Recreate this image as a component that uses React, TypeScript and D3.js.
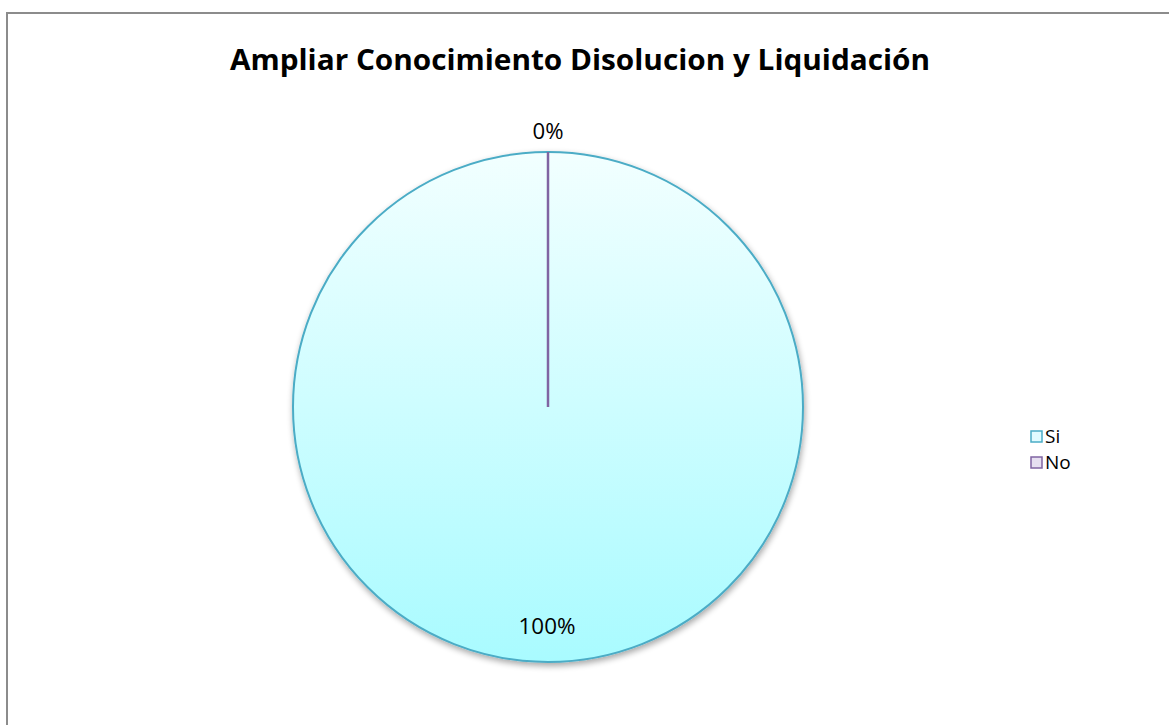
import React from "react";
import * as d3 from "d3";

const categories = ["Si", "No"];
const values = [100, 0];
const labels = ["100%", "0%"];
const title = "Ampliar Conocimiento Disolucion y Liquidación";

const W = 1169;
const H = 725;

export default function App() {
  const cx = 548, cy = 407, r = 255;
  const pie = d3.pie<number>().sort(null).value((d) => d)(values);
  const arc = d3.arc<d3.PieArcDatum<number>>().innerRadius(0).outerRadius(r);
  const strokes = ["#4bacc6", "#8064a2"];
  const legendFills = ["#e0fbff", "#e6dff0"];
  const labelPos = [
    [547, 634],
    [548, 139],
  ];
  return (
    <div style={{ position: "absolute", left: 0, top: 0 }}>
      <svg width={W} height={H} style={{ display: "block", fontFamily: "Lato, 'Open Sans', sans-serif" }}>
        <defs>
          <linearGradient id="g0" x1="0" y1="0" x2="0" y2="1">
            <stop offset="0" stopColor="#f2ffff" />
            <stop offset="1" stopColor="#a9fbff" />
          </linearGradient>
          <filter id="sh" x="-10%" y="-10%" width="120%" height="120%">
            <feGaussianBlur in="SourceAlpha" stdDeviation="3" />
            <feOffset dx="1" dy="3" result="b" />
            <feComponentTransfer><feFuncA type="linear" slope="0.35" /></feComponentTransfer>
            <feMerge>
              <feMergeNode />
              <feMergeNode in="SourceGraphic" />
            </feMerge>
          </filter>
        </defs>
        <rect x={0} y={0} width={W} height={H} fill="#fff" />
        <rect x={7} y={13} width={W + 10} height={H + 10} fill="#fff" stroke="#8c8c8c" strokeWidth={2} />
        <text x={580} y={70} textAnchor="middle" fontSize={28} fontWeight="bold" fill="#000" fontFamily="'Open Sans', sans-serif" textLength={700} lengthAdjust="spacingAndGlyphs">
          {title}
        </text>
        <g transform={`translate(${cx},${cy})`} filter="url(#sh)">
          {pie.map((p, i) =>
            p.endAngle - p.startAngle > 0 ? (
              <path key={i} d={arc(p) || ""} fill={i === 0 ? "url(#g0)" : "#e6dff0"} stroke={strokes[i]} strokeWidth={2} />
            ) : null
          )}
        </g>
        <g transform={`translate(${cx},${cy})`}>
          {pie.map((p, i) =>
            p.endAngle - p.startAngle === 0 ? (
              <line key={i} x1={0} y1={0} x2={r * Math.sin(p.startAngle)} y2={-r * Math.cos(p.startAngle)} stroke={strokes[i]} strokeWidth={2.5} />
            ) : null
          )}
        </g>
        {labels.map((l, i) => (
          <text key={i} x={labelPos[i][0]} y={labelPos[i][1]} textAnchor="middle" fontSize={21} fill="#000" fontFamily="'Open Sans', sans-serif" textLength={i === 0 ? 57 : 31} lengthAdjust="spacingAndGlyphs">
            {l}
          </text>
        ))}
        {categories.map((c, i) => (
          <g key={c} transform={`translate(1031,${431 + i * 26})`}>
            <rect x={0} y={0} width={11} height={11} fill={legendFills[i]} stroke={strokes[i]} strokeWidth={1.5} />
            <text x={14} y={12} fontSize={19} fill="#000" fontFamily="'Open Sans', sans-serif">{c}</text>
          </g>
        ))}
      </svg>
    </div>
  );
}
